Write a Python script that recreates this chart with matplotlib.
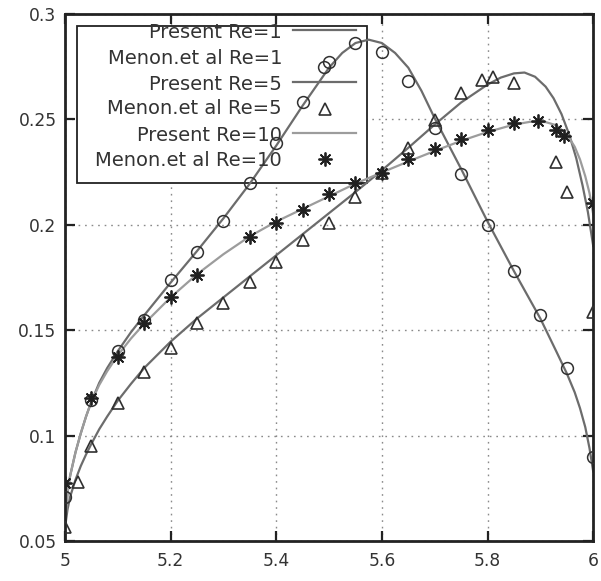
import matplotlib
matplotlib.use("Agg")
import matplotlib.pyplot as plt
from matplotlib.patches import Rectangle
from matplotlib.ticker import FuncFormatter

# ── present solution curves ───────────────────────────────────────────
x_re1 = [5.0, 5.005, 5.01, 5.02, 5.03, 5.04, 5.05, 5.065, 5.08, 5.1, 5.125,
         5.15, 5.2, 5.25, 5.3, 5.35, 5.4, 5.45, 5.5, 5.525, 5.55, 5.575, 5.6,
         5.625, 5.65, 5.675, 5.7, 5.75, 5.8, 5.85, 5.9, 5.93, 5.95, 5.965,
         5.975, 5.985, 5.993, 6.0]
y_re1 = [0.057, 0.073, 0.081, 0.092, 0.101, 0.109, 0.116, 0.125, 0.132, 0.140,
         0.149, 0.157, 0.1725, 0.1875, 0.203, 0.2195, 0.2375, 0.2565, 0.2745,
         0.2815, 0.2862, 0.2878, 0.2862, 0.2815, 0.2745, 0.2635, 0.2505, 0.2265,
         0.2015, 0.178, 0.1555, 0.140, 0.1295, 0.1205, 0.113, 0.104, 0.094, 0.083]

x_re5 = [5.0, 5.005, 5.01, 5.02, 5.03, 5.04, 5.05, 5.065, 5.08, 5.1, 5.125,
         5.15, 5.2, 5.25, 5.3, 5.35, 5.4, 5.45, 5.5, 5.55, 5.6, 5.65, 5.7, 5.75,
         5.8, 5.825, 5.85, 5.87, 5.89, 5.91, 5.925, 5.94, 5.955, 5.968, 5.98,
         5.99, 6.0]
y_re5 = [0.056, 0.065, 0.071, 0.079, 0.0855, 0.091, 0.096, 0.103, 0.109, 0.1165,
         0.1245, 0.132, 0.1445, 0.1555, 0.1655, 0.1755, 0.1855, 0.1955, 0.2055,
         0.2155, 0.2258, 0.2365, 0.2475, 0.258, 0.2665, 0.2698, 0.2718, 0.2722,
         0.2702, 0.2655, 0.260, 0.2525, 0.2425, 0.2315, 0.2185, 0.206, 0.190]

x_re10 = [5.0, 5.005, 5.01, 5.02, 5.03, 5.04, 5.05, 5.065, 5.08, 5.1, 5.125,
          5.15, 5.2, 5.25, 5.3, 5.35, 5.4, 5.45, 5.5, 5.55, 5.6, 5.65, 5.7, 5.75,
          5.8, 5.85, 5.88, 5.91, 5.93, 5.95, 5.965, 5.975, 5.985, 5.993, 6.0]
y_re10 = [0.057, 0.073, 0.081, 0.092, 0.101, 0.109, 0.116, 0.124, 0.1305, 0.138,
          0.146, 0.153, 0.1655, 0.1765, 0.186, 0.1945, 0.2015, 0.2075, 0.2135,
          0.2195, 0.2248, 0.230, 0.235, 0.2398, 0.2440, 0.2475, 0.2488, 0.2487,
          0.2472, 0.243, 0.237, 0.231, 0.223, 0.215, 0.205]

# ── Menon et al. reference points ─────────────────────────────────────
mx_re1 = [5.0, 5.05, 5.1, 5.15, 5.2, 5.25, 5.3, 5.35, 5.4, 5.45, 5.49, 5.5,
          5.55, 5.6, 5.65, 5.7, 5.75, 5.8, 5.85, 5.9, 5.95, 6.0]
my_re1 = [0.071, 0.117, 0.140, 0.155, 0.174, 0.187, 0.202, 0.220, 0.239, 0.258,
          0.275, 0.277, 0.286, 0.282, 0.268, 0.246, 0.224, 0.200, 0.178, 0.157,
          0.132, 0.090]

mx_re5 = [5.0, 5.025, 5.05, 5.1, 5.15, 5.2, 5.25, 5.3, 5.35, 5.4, 5.45, 5.5,
          5.55, 5.6, 5.65, 5.7, 5.75, 5.79, 5.81, 5.85, 5.93, 5.95, 6.0]
my_re5 = [0.0566, 0.078, 0.095, 0.1155, 0.130, 0.1416, 0.1534, 0.1629, 0.1729,
          0.1824, 0.1928, 0.2009, 0.2130, 0.2246, 0.2364, 0.2497, 0.2625, 0.2687,
          0.2701, 0.2673, 0.2298, 0.2156, 0.1586]

mx_re10 = [5.0, 5.05, 5.1, 5.15, 5.2, 5.25, 5.35, 5.4, 5.45, 5.5, 5.55, 5.6,
           5.65, 5.7, 5.75, 5.8, 5.85, 5.895, 5.93, 5.945, 6.0]
my_re10 = [0.0775, 0.1178, 0.1373, 0.1534, 0.1658, 0.1762, 0.1942, 0.2009,
           0.2070, 0.2148, 0.2199, 0.2246, 0.2312, 0.2358, 0.2405, 0.2450,
           0.2483, 0.2492, 0.2450, 0.2421, 0.2103]

xticks = [5, 5.2, 5.4, 5.6, 5.8, 6]
yticks = [0.05, 0.1, 0.15, 0.2, 0.25, 0.3]

labels = ["Present Re=1", "Menon.et al Re=1", "Present Re=5",
          "Menon.et al Re=5", "Present Re=10", "Menon.et al Re=10"]

DARK = "#6c6c6c"
LIGHT = "#9c9c9c"
TXT = "#333333"

fig = plt.figure(figsize=(6.01, 5.81), dpi=100)
ax = fig.add_axes([0.108, 0.069, 0.879, 0.907])

ax.plot(x_re1, y_re1, color=DARK, lw=1.6, zorder=2)
ax.plot(x_re5, y_re5, color=DARK, lw=1.6, zorder=2)
ax.plot(x_re10, y_re10, color=LIGHT, lw=1.6, zorder=2)

ax.plot(mx_re1, my_re1, ls="none", marker="o", ms=8.5, mfc="none",
        mec="#303030", mew=1.1, zorder=3)
ax.plot(mx_re5, my_re5, ls="none", marker="^", ms=8.5, mfc="none",
        mec="#303030", mew=1.2, zorder=3)
ax.plot(mx_re10, my_re10, ls="none", marker=(8, 2, 0), ms=10,
        color="#202020", mew=1.3, zorder=3)

ax.set_xlim(5, 6)
ax.set_ylim(0.05, 0.3)
ax.set_xticks(xticks)
ax.set_yticks(yticks)
fmt = FuncFormatter(lambda v, p: f"{v:g}")
ax.xaxis.set_major_formatter(fmt)
ax.yaxis.set_major_formatter(fmt)

ax.set_axisbelow(True)
ax.grid(True, color="#8a8a8a", lw=1.0, ls=(0, (1.2, 3.5)))
ax.tick_params(direction="in", length=7, width=1.6, top=True, right=True,
               labelsize=12.3, labelcolor=TXT, color="#222222")
ax.tick_params(axis="x", pad=8)
ax.tick_params(axis="y", pad=6)
for s in ax.spines.values():
    s.set_linewidth(2.0)
    s.set_color("#222222")

# key box, gnuplot style: text right-justified, sample on the right
ax.add_patch(Rectangle((0.0227, 0.679), 0.549, 0.298, transform=ax.transAxes,
                       facecolor="white", edgecolor="#222222", lw=1.3, zorder=1))
rows = [0.9655, 0.9155, 0.867, 0.820, 0.769, 0.7215]
tx, l0, l1, mx = 0.411, 0.432, 0.551, 0.4915
for lab, ry in zip(labels, rows):
    ax.text(tx, ry, lab, transform=ax.transAxes, ha="right", va="center",
            fontsize=14, color=TXT, zorder=4)
ax.plot([l0, l1], [rows[0] + 0.004] * 2, transform=ax.transAxes, color=DARK, lw=1.6, zorder=2)
ax.plot([l0, l1], [rows[2] + 0.004] * 2, transform=ax.transAxes, color=DARK, lw=1.6, zorder=2)
ax.plot([mx], [rows[3]], transform=ax.transAxes, ls="none", marker="^", ms=8.5,
        mfc="none", mec="#303030", mew=1.2, zorder=3)
ax.plot([l0, l1], [rows[4] + 0.006] * 2, transform=ax.transAxes, color=LIGHT, lw=1.6, zorder=2)
ax.plot([mx], [rows[5] + 0.004], transform=ax.transAxes, ls="none", marker=(8, 2, 0),
        ms=10, color="#202020", mew=1.3, zorder=3)

fig.savefig("out.png", dpi=100, facecolor="white")
